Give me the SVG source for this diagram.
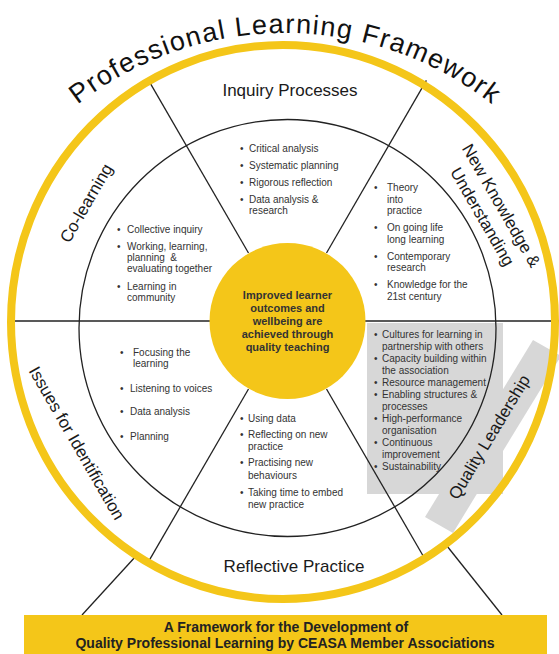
<svg xmlns="http://www.w3.org/2000/svg" width="559" height="654" viewBox="0 0 559 654">
<defs>
<style>
.ln{stroke:#222;stroke-width:1.3;fill:none}
.lbl{font-family:"Liberation Sans",Arial,sans-serif;font-size:17px;fill:#1a1a1a}
.li{font-family:"Liberation Sans",Arial,sans-serif;font-size:10px;fill:#333}
.ctr{font-family:"Liberation Sans",Arial,sans-serif;font-size:11px;font-weight:bold;fill:#333;text-anchor:middle}
.ban{font-family:"Liberation Sans",Arial,sans-serif;font-size:14px;font-weight:bold;fill:#222;text-anchor:middle}
.title{font-family:"Liberation Sans",Arial,sans-serif;font-size:27px;fill:#111;letter-spacing:1.4px}
.grey{fill:#d7d7d7}
.yel{fill:#f4c619}
</style>
<path id="titleArc" d="M 39.3 139.8 A 336 336 0 0 1 530.7 139.8"/>
</defs>
<rect width="559" height="654" fill="#fff"/>

<g id="quality-bg">
<polygon class="grey" points="425,517 533,340 561,356 453,533"/>
<rect class="grey" x="367" y="323" width="136" height="171"/>
</g>

<g id="connectors">
<line class="ln" x1="8" y1="321" x2="559" y2="321"/>
<line class="ln" x1="248.5" y1="253" x2="148.6" y2="80.4"/>
<line class="ln" x1="326.5" y1="253" x2="426.4" y2="80.4"/>
<line class="ln" x1="248.5" y1="389" x2="148.5" y2="561.7"/>
<line class="ln" x1="326.5" y1="389" x2="425.5" y2="560"/>
<line class="ln" x1="136" y1="556" x2="82" y2="615"/>
<line class="ln" x1="447" y1="546" x2="502" y2="615"/>
<circle class="ln" cx="287.5" cy="328" r="208.5"/>
</g>

<g id="ring">
<ellipse cx="283" cy="322" rx="272" ry="277" fill="none" stroke="#f4c619" stroke-width="8"/>
</g>

<g id="title">
<text class="title"><textPath href="#titleArc" startOffset="52.1">Professional</textPath></text>
<text class="title"><textPath href="#titleArc" startOffset="226.4">Learning</textPath></text>
<text class="title"><textPath href="#titleArc" startOffset="351.6">Framework</textPath></text>
</g>

<g id="centre">
<circle class="yel" cx="287.5" cy="321" r="78"/>
<text class="ctr" x="287.5" y="299">Improved learner</text>
<text class="ctr" x="287.5" y="312">outcomes and</text>
<text class="ctr" x="287.5" y="325">wellbeing are</text>
<text class="ctr" x="287.5" y="338">achieved through</text>
<text class="ctr" x="287.5" y="351">quality teaching</text>
</g>

<g id="inquiry">
<text class="lbl" x="290" y="96" text-anchor="middle">Inquiry Processes</text>
<text class="li" x="240" y="152">•</text><text class="li" x="249" y="152">Critical analysis</text>
<text class="li" x="240" y="169">•</text><text class="li" x="249" y="169">Systematic planning</text>
<text class="li" x="240" y="186">•</text><text class="li" x="249" y="186">Rigorous reflection</text>
<text class="li" x="240" y="203">•</text><text class="li" x="249" y="203">Data analysis &amp;</text>
<text class="li" x="249" y="214">research</text>
</g>

<g id="colearning">
<text class="lbl" transform="translate(86,203) rotate(-60)" x="0" y="6" text-anchor="middle">Co-learning</text>
<text class="li" x="117" y="233">•</text><text class="li" x="127" y="233">Collective inquiry</text>
<text class="li" x="117" y="250">•</text><text class="li" x="127" y="250">Working, learning,</text>
<text class="li" x="127" y="261">planning&#160; &amp;</text>
<text class="li" x="127" y="272">evaluating together</text>
<text class="li" x="117" y="290">•</text><text class="li" x="127" y="290">Learning in</text>
<text class="li" x="127" y="301">community</text>
</g>

<g id="newknowledge">
<g transform="translate(492,211) rotate(60)">
<text class="lbl" x="0" y="-5" text-anchor="middle">New Knowledge &amp;</text>
<text class="lbl" x="0" y="17" text-anchor="middle">Understanding</text>
</g>
<text class="li" x="374" y="191">•</text><text class="li" x="387" y="191">Theory</text>
<text class="li" x="387" y="202.5">into</text>
<text class="li" x="387" y="213.5">practice</text>
<text class="li" x="374" y="231">•</text><text class="li" x="387" y="231">On going life</text>
<text class="li" x="387" y="242.5">long learning</text>
<text class="li" x="374" y="259.5">•</text><text class="li" x="387" y="259.5">Contemporary</text>
<text class="li" x="387" y="271">research</text>
<text class="li" x="374" y="288">•</text><text class="li" x="387" y="288">Knowledge for the</text>
<text class="li" x="387" y="299.5">21st century</text>
</g>

<g id="issues">
<text class="lbl" transform="translate(77,443) rotate(60)" x="0" y="6" text-anchor="middle">Issues for Identification</text>
<text class="li" x="120" y="355.5">•</text><text class="li" x="133" y="355.5">Focusing the</text>
<text class="li" x="133" y="366.5">learning</text>
<text class="li" x="120" y="391.5">•</text><text class="li" x="130" y="391.5">Listening to voices</text>
<text class="li" x="120" y="415">•</text><text class="li" x="130" y="415">Data analysis</text>
<text class="li" x="120" y="439.5">•</text><text class="li" x="130" y="439.5">Planning</text>
</g>

<g id="reflective">
<text class="lbl" x="294" y="572" text-anchor="middle">Reflective Practice</text>
<text class="li" x="240" y="421.5">•</text><text class="li" x="248" y="421.5">Using data</text>
<text class="li" x="240" y="438">•</text><text class="li" x="248" y="438">Reflecting on new</text>
<text class="li" x="248" y="450">practice</text>
<text class="li" x="240" y="466">•</text><text class="li" x="248" y="466">Practising new</text>
<text class="li" x="248" y="478.5">behaviours</text>
<text class="li" x="240" y="495.5">•</text><text class="li" x="248" y="495.5">Taking time to embed</text>
<text class="li" x="248" y="507.5">new practice</text>
</g>

<g id="quality">
<text class="lbl" transform="translate(489,437) rotate(-59)" x="0" y="6" text-anchor="middle">Quality Leadership</text>
<text class="li" x="374" y="337.5">•</text><text class="li" x="382" y="337.5">Cultures for learning in</text>
<text class="li" x="382" y="349.5">partnership with others</text>
<text class="li" x="374" y="361.5">•</text><text class="li" x="382" y="361.5">Capacity building within</text>
<text class="li" x="382" y="373.5">the association</text>
<text class="li" x="374" y="385.5">•</text><text class="li" x="382" y="385.5">Resource management</text>
<text class="li" x="374" y="397.5">•</text><text class="li" x="382" y="397.5">Enabling structures &amp;</text>
<text class="li" x="382" y="409.5">processes</text>
<text class="li" x="374" y="421.5">•</text><text class="li" x="382" y="421.5">High-performance</text>
<text class="li" x="382" y="433.5">organisation</text>
<text class="li" x="374" y="445.5">•</text><text class="li" x="382" y="445.5">Continuous</text>
<text class="li" x="382" y="457.5">improvement</text>
<text class="li" x="374" y="469.5">•</text><text class="li" x="382" y="469.5">Sustainability</text>
</g>

<g id="banner">
<rect class="yel" x="24" y="615" width="523" height="39"/>
<text class="ban" x="286" y="632">A Framework for the Development of</text>
<text class="ban" x="285" y="648">Quality Professional Learning by CEASA Member Associations</text>
</g>
</svg>
